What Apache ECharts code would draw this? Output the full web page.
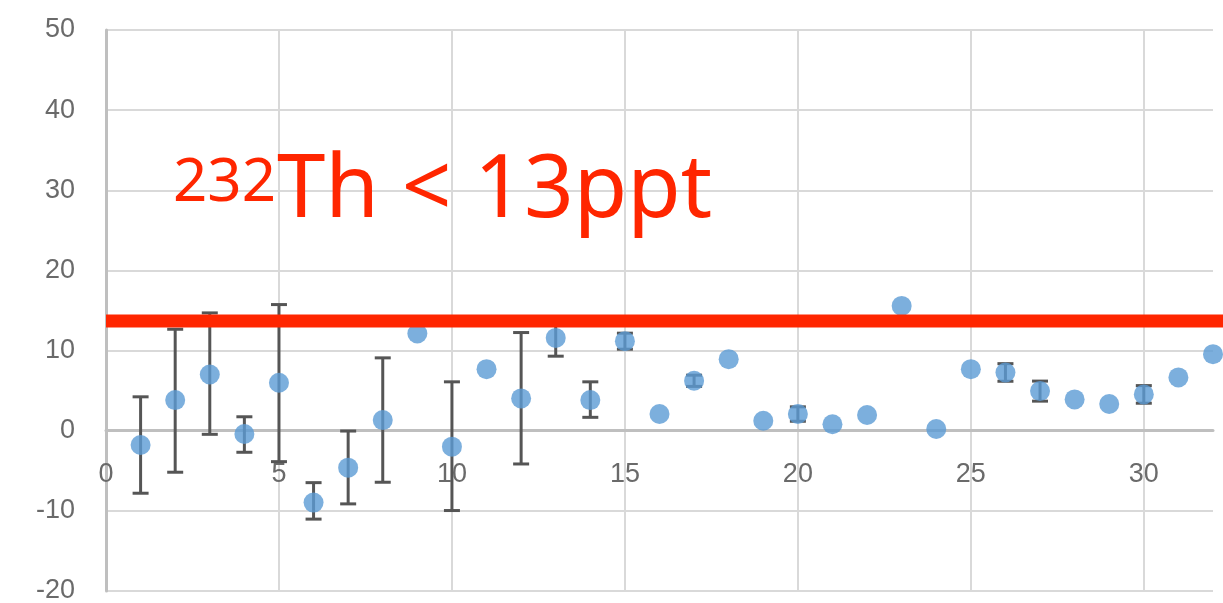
<!DOCTYPE html>
<html><head><meta charset="utf-8">
<script src="https://cdn.jsdelivr.net/npm/echarts@6/dist/echarts.min.js"></script>
<style>html,body{margin:0;padding:0;background:#fff}#c{width:1223px;height:603px}</style>
</head><body><div id="c"></div>
<script>
// ---- data ----
const sampleNo = [1,2,3,4,5,6,7,8,9,10,11,12,13,14,15,16,17,18,19,20,21,22,23,24,25,26,27,28,29,30,31,32];
const values   = [-1.78,3.82,7.02,-0.41,5.98,-8.97,-4.61,1.33,12.13,-1.99,7.68,4.03,11.58,3.82,11.17,2.08,6.23,8.93,1.25,2.08,0.80,1.96,15.57,0.21,7.68,7.27,4.94,3.91,3.33,4.53,6.65,9.55];
const errLow   = [-7.80,-5.18,-0.45,-2.69,-3.86,-11.03,-9.13,-6.43,null,-9.96,null,-4.15,9.30,1.67,10.17,null,5.53,null,null,1.18,null,null,null,null,null,6.17,3.69,null,null,3.43,null,null];
const errHigh  = [4.23,12.66,14.70,1.74,15.74,-6.48,-0.04,9.09,null,6.10,null,12.25,13.86,6.10,12.17,null,6.93,null,null,2.98,null,null,null,null,null,8.37,6.19,null,null,5.63,null,null];
const limitValue = 13.69;
const limitLabelSup = '232';
const limitLabelMain = 'Th < 13ppt';
const yMin = -20, yMax = 50, yStep = 10;
const xMin = 0, xMax = 32, xStep = 5;

const points = sampleNo.map((x, i) => [x, values[i]]);
const bars = [];
sampleNo.forEach((x, i) => { if (errLow[i] !== null) bars.push([x, errLow[i], errHigh[i]]); });

const chart = echarts.init(document.getElementById('c'), null, {renderer: 'canvas'});
const labelFont = {color: '#6a6a6a', fontSize: 27, fontFamily: "'Liberation Sans Narrow','Liberation Sans',Arial,sans-serif"};
const RED = '#FF2600';

chart.setOption({
  animation: false,
  backgroundColor: '#fff',
  grid: [
    {left: 106, right: 10, top: 30, bottom: 12, containLabel: false, outerBoundsMode: 'none'},
    {left: 106, right: 0, top: 30, bottom: 12, containLabel: false, outerBoundsMode: 'none'}
  ],
  xAxis: [
    {
      type: 'value', gridIndex: 0, min: xMin, max: xMax, interval: xStep, position: 'bottom', offset: 0,
      axisLine: {show: true, onZero: false, lineStyle: {color: '#BFBFBF', width: 3}},
      axisTick: {show: false},
      axisLabel: Object.assign({margin: 30, showMaxLabel: false}, labelFont),
      splitLine: {show: true, showMaxLine: false, lineStyle: {color: '#D9D9D9', width: 2}}
    },
    {type: 'value', gridIndex: 1, min: 0, max: 1, show: false}
  ],
  yAxis: [
    {
      type: 'value', gridIndex: 0, min: yMin, max: yMax, interval: yStep,
      axisLine: {show: true, onZero: false, lineStyle: {color: '#BFBFBF', width: 3}},
      axisTick: {show: false},
      axisLabel: Object.assign({margin: 31}, labelFont),
      splitLine: {show: true, lineStyle: {color: '#D9D9D9', width: 2}}
    },
    {type: 'value', gridIndex: 1, min: yMin, max: yMax, show: false}
  ],
  series: [
    {
      type: 'custom', xAxisIndex: 0, yAxisIndex: 0, z: 2,
      data: bars,
      renderItem: function (params, api) {
        const x = api.value(0);
        const lo = api.coord([x, api.value(1)]);
        const hi = api.coord([x, api.value(2)]);
        const hw = 8;
        const st = {stroke: '#555555', lineWidth: 3};
        return {
          type: 'group',
          children: [
            {type: 'line', shape: {x1: lo[0], y1: lo[1], x2: hi[0], y2: hi[1]}, style: st},
            {type: 'line', shape: {x1: lo[0] - hw, y1: lo[1], x2: lo[0] + hw, y2: lo[1]}, style: st},
            {type: 'line', shape: {x1: hi[0] - hw, y1: hi[1], x2: hi[0] + hw, y2: hi[1]}, style: st}
          ]
        };
      }
    },
    {
      type: 'scatter', xAxisIndex: 0, yAxisIndex: 0, z: 3,
      data: points, symbol: 'circle', symbolSize: 20,
      itemStyle: {color: '#5B9BD5'}
    },
    {
      type: 'line', xAxisIndex: 1, yAxisIndex: 1, z: 5,
      data: [[0, limitValue], [1, limitValue]],
      symbol: 'none', lineStyle: {color: RED, width: 13}, silent: true
    }
  ],
  graphic: [
    {type: 'text', x: 173, y: 184, z: 10, style: {text: limitLabelSup, fill: RED, font: "60px 'Noto Sans', sans-serif", verticalAlign: 'middle', align: 'left'}},
    {type: 'text', x: 277, y: 192, z: 10, style: {text: limitLabelMain, fill: RED, font: "87px 'Noto Sans', sans-serif", verticalAlign: 'middle', align: 'left'}}
  ]
});

// move the x axis (line + labels) up onto y = 0, as in the reference
const zeroY = chart.convertToPixel({xAxisIndex: 0, yAxisIndex: 0}, [xMin, 0])[1];
const bottomY = chart.convertToPixel({xAxisIndex: 0, yAxisIndex: 0}, [xMin, yMin])[1];
chart.setOption({xAxis: [{offset: zeroY - bottomY}, {}]});
</script>
</body></html>
